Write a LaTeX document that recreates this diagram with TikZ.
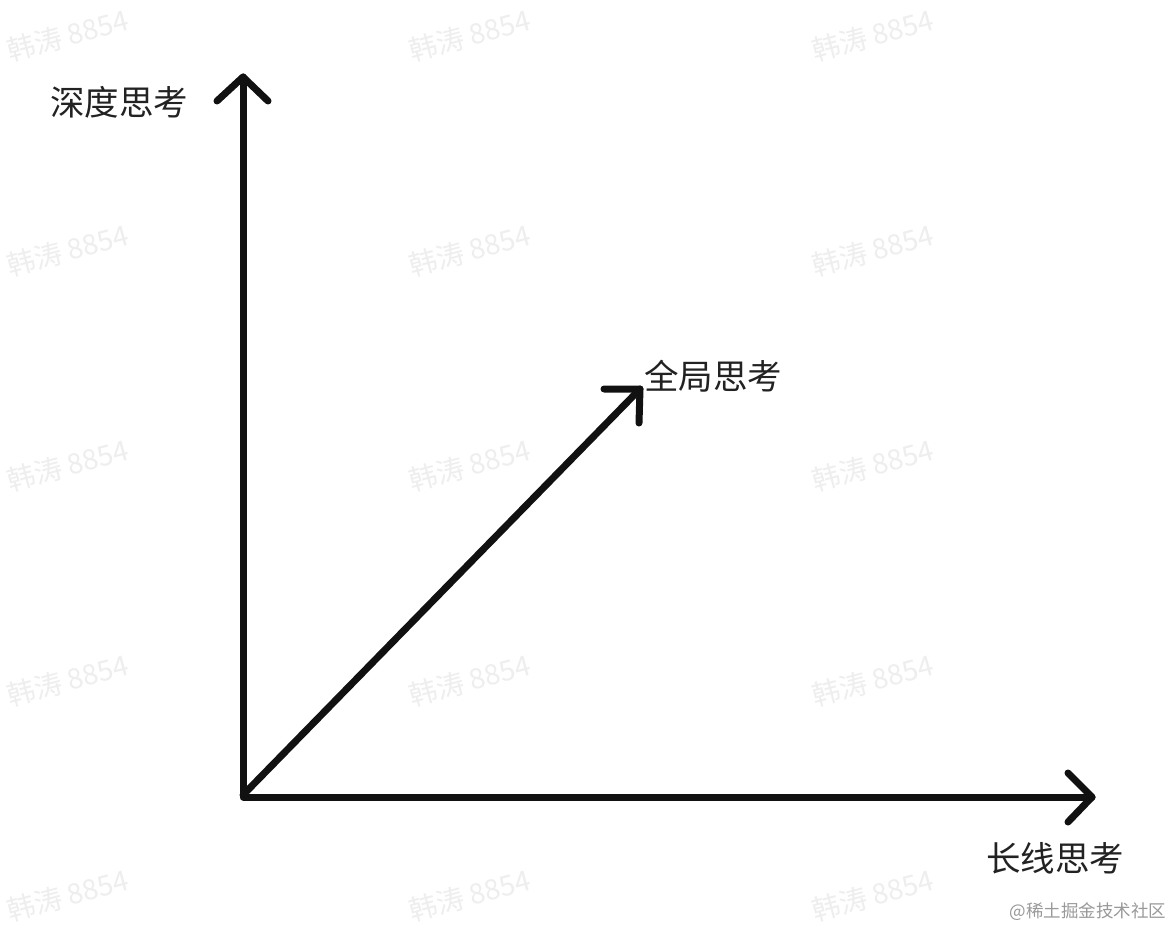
\documentclass[tikz,border=0pt]{standalone}
\usepackage{fontspec}
\newfontfamily\cjk{Noto Sans CJK SC}
\newfontfamily\cjklight{Noto Sans CJK SC Light}
\definecolor{ink}{HTML}{111111}
\definecolor{txt}{HTML}{222222}
\definecolor{wm}{HTML}{EEEEEE}
\definecolor{credit}{HTML}{999999}
\begin{document}
\begin{tikzpicture}[x=1pt,y=-1pt,
  axis/.style={draw=ink,line width=7pt,line cap=round,line join=round},
  lbl/.style={text=txt,font=\cjk\fontsize{34.5}{40}\selectfont,inner sep=0pt},
  wmark/.style={text=wm,font=\cjk\fontsize{28}{32}\selectfont,rotate=15,inner sep=0pt}]
\useasboundingbox (0,0) rectangle (1174,928);
\fill[white] (0,0) rectangle (1174,928);
% watermarks
\foreach \cx in {68,470,873}{
  \foreach \cy in {35,250,465,680,895}{
    \node[wmark] at (\cx,\cy) {韩涛 8854};
  }
}
% axes
\coordinate (O) at (243,795);
\coordinate (Ytip) at (243,77);
\coordinate (Xtip) at (1092,797);
\coordinate (Dtip) at (640,389);
\draw[axis] (O) -- (Ytip);
\draw[axis] (217,101) -- (Ytip) -- (268,101);
\draw[axis] (O) -- (243,797) -- (Xtip);
\draw[axis] (1068,773) -- (Xtip) -- (1068,822);
\draw[axis] (O) -- (Dtip);
\draw[axis] (604,389) -- (Dtip) -- (639,423);
% labels
\node[lbl] (ly) at (119,102) {深度思考};
\node[lbl] (ld) at (713,376) {全局思考};
\node[lbl] (lx) at (1055,858) {长线思考};
\node[text=credit,font=\cjk\fontsize{17.5}{20}\selectfont,inner sep=0pt] (cr) at (1088,912) {@稀土掘金技术社区};
\end{tikzpicture}
\end{document}
